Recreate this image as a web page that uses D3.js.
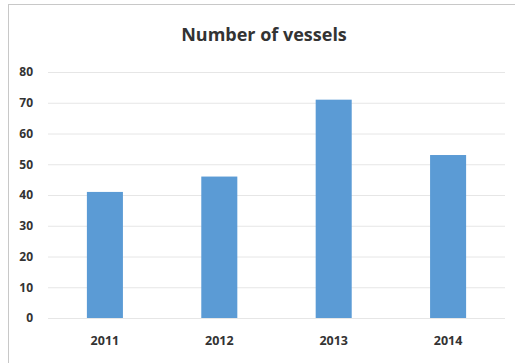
<!DOCTYPE html>
<html><head><meta charset="utf-8">
<script src="https://cdn.jsdelivr.net/npm/d3@7"></script>
<style>body{margin:0;background:#fff}svg{display:block}</style>
</head><body>
<script>
const categories = ["2011", "2012", "2013", "2014"];
const values = [41, 46, 71, 53];
const yTicks = [0, 10, 20, 30, 40, 50, 60, 70, 80];
const title = "Number of vessels";

const W = 515, H = 363;
const svg = d3.select("body").append("svg").attr("width", W).attr("height", H);
svg.append("rect").attr("width", W).attr("height", H).attr("fill", "#fff");
// frame lines (top, left)
svg.append("line").attr("x1", 8).attr("x2", W).attr("y1", 4.5).attr("y2", 4.5).attr("stroke", "#c8c8c8");
svg.append("line").attr("x1", 8.5).attr("x2", 8.5).attr("y1", 4).attr("y2", H).attr("stroke", "#c8c8c8");

const mLeft = 48, mRight = 505, mTop = 72, mBottom = 318;
const x = d3.scaleBand().domain(categories).range([mLeft, mRight]).paddingInner(0.685).paddingOuter(0.34);
const y = d3.scaleLinear().domain([0, 80]).range([mBottom, mTop]);

const yAxis = svg.append("g").attr("transform", `translate(${mLeft},0)`)
  .call(d3.axisLeft(y).tickValues(yTicks).tickSize(-(mRight - mLeft)).tickPadding(15));
yAxis.select(".domain").remove();
yAxis.selectAll(".tick line").attr("stroke", "#e6e6e6");
yAxis.selectAll(".tick text").attr("font-family", "Open Sans, sans-serif").attr("font-weight", "bold")
  .attr("font-size", 12).attr("fill", "#333");

svg.selectAll("rect.bar").data(values).join("rect").attr("class", "bar")
  .attr("x", (d, i) => x(categories[i]))
  .attr("width", x.bandwidth())
  .attr("y", d => y(d))
  .attr("height", d => y(0) - y(d))
  .attr("fill", "#5b9bd5");

const xAxis = svg.append("g").attr("transform", `translate(0,${mBottom})`)
  .call(d3.axisBottom(x).tickSize(0).tickPadding(18));
xAxis.select(".domain").remove();
xAxis.selectAll(".tick text").attr("font-family", "Open Sans, sans-serif").attr("font-weight", "bold")
  .attr("font-size", 12.5).attr("fill", "#333");

svg.append("text").attr("x", 264).attr("y", 41).attr("text-anchor", "middle")
  .attr("font-family", "Open Sans, sans-serif").attr("font-weight", "bold").attr("font-size", 18)
  .attr("fill", "#333").text(title);
</script>
</body></html>
